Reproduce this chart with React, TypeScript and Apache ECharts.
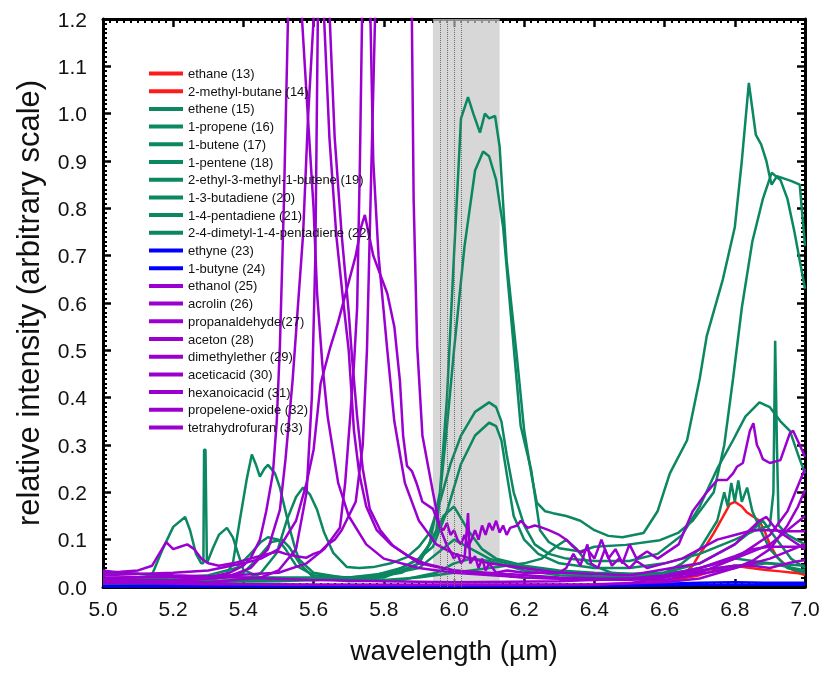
import React, { useEffect, useRef } from "react";
import * as echarts from "echarts";

type P = [number, number][];

const X_MIN = 5.0, X_MAX = 7.0, X_STEP = 0.2;
const Y_MIN = 0.0, Y_MAX = 1.2, Y_STEP = 0.1;
const BAND: [number, number] = [5.94, 6.13];
const BAND_LINES = [5.96, 5.983, 6.003, 6.023];

const ethane13: P = [[5.0,0.003],[5.5,0.003],[6.0,0.003],[6.4,0.004],[6.5,0.006],[6.55,0.009],[6.6,0.013],[6.65,0.025],[6.68,0.045],[6.70,0.07],[6.72,0.09],[6.74,0.114],[6.76,0.14],[6.786,0.175],[6.80,0.18],[6.82,0.17],[6.834,0.158],[6.85,0.15],[6.87,0.14],[6.886,0.116],[6.90,0.09],[6.92,0.063],[6.94,0.05],[6.966,0.036],[6.98,0.03],[7.0,0.025]];
const methylbutane14: P = [[5.0,0.002],[6.0,0.002],[6.5,0.005],[6.6,0.012],[6.65,0.018],[6.7,0.025],[6.73,0.032],[6.78,0.042],[6.80,0.045],[6.835,0.041],[6.89,0.036],[6.93,0.033],[6.966,0.03],[7.0,0.028]];
const ethene15: P = [[5.0,0.012],[5.2,0.012],[5.4,0.014],[5.6,0.015],[5.75,0.018],[5.85,0.03],[5.9,0.05],[5.93,0.09],[5.96,0.2],[5.98,0.4],[6.0,0.7],[6.02,0.99],[6.04,1.035],[6.055,1.0],[6.074,0.96],[6.088,1.0],[6.1,0.99],[6.117,0.995],[6.13,0.93],[6.15,0.69],[6.18,0.48],[6.20,0.33],[6.22,0.24],[6.236,0.178],[6.26,0.16],[6.282,0.156],[6.32,0.15],[6.36,0.14],[6.40,0.12],[6.44,0.108],[6.48,0.105],[6.54,0.114],[6.58,0.16],[6.615,0.24],[6.664,0.31],[6.70,0.44],[6.72,0.53],[6.766,0.65],[6.80,0.76],[6.82,0.9],[6.84,1.065],[6.86,0.955],[6.875,0.935],[6.89,0.9],[6.90,0.865],[6.905,0.85],[6.92,0.868],[6.96,0.858],[6.985,0.85],[7.0,0.72]];
const propene16: P = [[5.0,0.01],[5.5,0.012],[5.8,0.02],[5.9,0.05],[5.95,0.12],[5.98,0.34],[6.0,0.5],[6.03,0.72],[6.06,0.88],[6.083,0.92],[6.10,0.91],[6.12,0.86],[6.14,0.76],[6.165,0.55],[6.19,0.34],[6.22,0.247],[6.245,0.12],[6.27,0.095],[6.30,0.082],[6.36,0.075],[6.40,0.085],[6.49,0.089],[6.587,0.099],[6.64,0.115],[6.68,0.14],[6.74,0.20],[6.77,0.30],[6.795,0.44],[6.82,0.59],[6.85,0.73],[6.88,0.82],[6.905,0.875],[6.93,0.86],[6.95,0.82],[6.97,0.75],[7.0,0.63]];
const butene17: P = [[5.0,0.008],[5.3,0.01],[5.4,0.015],[5.45,0.03],[5.495,0.072],[5.524,0.142],[5.55,0.19],[5.57,0.21],[5.59,0.195],[5.61,0.163],[5.63,0.115],[5.656,0.072],[5.695,0.042],[5.73,0.04],[5.77,0.042],[5.82,0.05],[5.866,0.063],[5.90,0.085],[5.93,0.114],[5.96,0.18],[5.99,0.26],[6.02,0.32],[6.06,0.37],[6.10,0.39],[6.12,0.38],[6.135,0.35],[6.15,0.28],[6.17,0.2],[6.2,0.13],[6.23,0.09],[6.27,0.07],[6.32,0.06],[6.4,0.055],[6.5,0.055],[6.58,0.07],[6.65,0.11],[6.7,0.17],[6.75,0.25],[6.795,0.31],[6.83,0.36],[6.87,0.39],[6.90,0.38],[6.93,0.35],[6.957,0.33],[6.98,0.28],[7.0,0.24]];
const pentene18: P = [[5.0,0.01],[5.08,0.012],[5.12,0.02],[5.142,0.03],[5.17,0.08],[5.2,0.127],[5.234,0.148],[5.248,0.12],[5.265,0.07],[5.28,0.05],[5.286,0.05],[5.288,0.29],[5.292,0.29],[5.296,0.05],[5.313,0.082],[5.33,0.11],[5.353,0.125],[5.37,0.105],[5.385,0.07],[5.40,0.036],[5.45,0.02],[5.6,0.015],[5.7,0.02],[5.82,0.03],[5.895,0.057],[5.94,0.085],[5.98,0.16],[6.02,0.26],[6.06,0.32],[6.10,0.347],[6.12,0.34],[6.135,0.31],[6.15,0.24],[6.17,0.15],[6.2,0.1],[6.24,0.07],[6.3,0.05],[6.4,0.04],[6.5,0.04],[6.6,0.05],[6.7,0.07],[6.8,0.1],[6.86,0.12],[6.9,0.13],[6.91,0.2],[6.915,0.52],[6.92,0.3],[6.925,0.13],[6.95,0.11],[7.0,0.09]];
const ethylmethylbutene19: P = [[5.0,0.005],[5.2,0.008],[5.3,0.015],[5.35,0.025],[5.37,0.05],[5.39,0.142],[5.41,0.23],[5.424,0.28],[5.435,0.26],[5.447,0.233],[5.46,0.25],[5.47,0.258],[5.49,0.24],[5.504,0.21],[5.52,0.16],[5.533,0.12],[5.55,0.075],[5.56,0.057],[5.6,0.03],[5.7,0.018],[5.8,0.015],[5.9,0.02],[6.0,0.03],[6.1,0.04],[6.2,0.05],[6.25,0.06],[6.29,0.085],[6.32,0.1],[6.35,0.08],[6.38,0.05],[6.45,0.03],[6.55,0.025],[6.6,0.03],[6.65,0.05],[6.7,0.08],[6.75,0.14],[6.77,0.2],[6.78,0.17],[6.79,0.22],[6.80,0.18],[6.81,0.225],[6.82,0.18],[6.835,0.21],[6.85,0.16],[6.88,0.11],[6.9,0.08],[6.95,0.04],[7.0,0.03]];
const butadiene20: P = [[5.0,0.015],[5.2,0.02],[5.3,0.025],[5.38,0.04],[5.42,0.07],[5.45,0.095],[5.47,0.105],[5.5,0.1],[5.52,0.08],[5.55,0.045],[5.6,0.025],[5.7,0.02],[5.8,0.025],[5.9,0.04],[5.95,0.07],[6.0,0.1],[6.05,0.08],[6.1,0.06],[6.15,0.05],[6.2,0.04],[6.3,0.03],[6.5,0.025],[6.6,0.03],[6.7,0.05],[6.8,0.09],[6.85,0.12],[6.88,0.14],[6.92,0.1],[6.96,0.06],[7.0,0.04]];
const pentadiene21: P = [[5.0,0.012],[5.3,0.015],[5.4,0.03],[5.44,0.06],[5.48,0.095],[5.51,0.1],[5.53,0.085],[5.56,0.05],[5.6,0.02],[5.7,0.012],[5.85,0.015],[5.95,0.03],[6.0,0.05],[6.05,0.06],[6.1,0.055],[6.2,0.035],[6.3,0.025],[6.5,0.02],[6.6,0.025],[6.7,0.04],[6.8,0.06],[6.9,0.05],[7.0,0.035]];
const dimethylpentadiene22: P = [[5.0,0.03],[5.1,0.028],[5.2,0.02],[5.4,0.02],[5.6,0.02],[5.75,0.02],[5.85,0.04],[5.9,0.06],[5.94,0.1],[5.97,0.15],[6.0,0.17],[6.04,0.12],[6.08,0.08],[6.12,0.06],[6.2,0.045],[6.3,0.035],[6.4,0.03],[6.5,0.028],[6.6,0.03],[6.7,0.035],[6.8,0.045],[6.9,0.05],[7.0,0.045]];
const ethyne23: P = [[5.0,0.001],[5.5,0.001],[6.0,0.001],[6.5,0.002],[6.7,0.004],[7.0,0.005]];
const butyne24: P = [[5.0,0.002],[5.2,0.003],[5.4,0.002],[6.0,0.002],[6.5,0.004],[6.6,0.007],[6.7,0.009],[6.8,0.01],[6.9,0.009],[7.0,0.009]];
const ethanol25: P = [[5.0,0.012],[5.2,0.015],[5.3,0.02],[5.36,0.03],[5.40,0.045],[5.42,0.06],[5.447,0.10],[5.465,0.16],[5.484,0.24],[5.495,0.35],[5.504,0.51],[5.515,0.8],[5.527,1.2],[5.547,1.8],[5.567,1.2],[5.584,0.99],[5.60,0.8],[5.61,0.62],[5.625,0.47],[5.64,0.36],[5.67,0.22],[5.70,0.15],[5.75,0.09],[5.8,0.06],[5.9,0.04],[6.0,0.03],[6.2,0.02],[6.5,0.015],[6.7,0.03],[6.8,0.06],[6.9,0.11],[6.95,0.16],[7.0,0.25]];
const acrolin26: P = [[5.0,0.01],[5.2,0.012],[5.35,0.02],[5.42,0.04],[5.47,0.08],[5.504,0.163],[5.52,0.27],[5.54,0.435],[5.555,0.59],[5.57,0.744],[5.584,0.99],[5.6,1.2],[5.622,1.9],[5.646,1.2],[5.66,0.95],[5.68,0.744],[5.70,0.58],[5.71,0.48],[5.724,0.36],[5.74,0.25],[5.76,0.165],[5.79,0.12],[5.826,0.087],[5.87,0.065],[5.92,0.049],[6.0,0.035],[6.2,0.02],[6.4,0.015],[6.6,0.02],[6.8,0.06],[6.9,0.09],[7.0,0.15]];
const propanaldehyde27: P = [[5.0,0.008],[5.3,0.01],[5.45,0.02],[5.5,0.035],[5.55,0.08],[5.58,0.2],[5.595,0.4],[5.605,0.7],[5.612,1.2],[5.62,2.0],[5.63,1.2],[5.645,0.95],[5.665,0.74],[5.685,0.6],[5.70,0.5],[5.715,0.33],[5.73,0.24],[5.75,0.17],[5.78,0.12],[5.82,0.09],[5.9,0.05],[6.0,0.035],[6.3,0.02],[6.6,0.015],[6.8,0.04],[6.9,0.06],[7.0,0.09]];
const aceton28: P = [[5.0,0.02],[5.3,0.022],[5.5,0.03],[5.58,0.05],[5.63,0.08],[5.675,0.125],[5.69,0.22],[5.704,0.357],[5.715,0.47],[5.724,0.59],[5.732,0.9],[5.738,1.2],[5.75,1.9],[5.762,1.2],[5.77,0.9],[5.785,0.7],[5.81,0.5],[5.83,0.35],[5.86,0.22],[5.9,0.14],[5.95,0.09],[6.0,0.07],[6.1,0.05],[6.3,0.03],[6.5,0.025],[6.7,0.05],[6.8,0.09],[6.87,0.14],[6.89,0.148],[6.92,0.12],[6.96,0.1],[7.0,0.08]];
const dimethylether29: P = [[5.0,0.03],[5.05,0.032],[5.1,0.035],[5.14,0.045],[5.16,0.07],[5.18,0.095],[5.2,0.08],[5.22,0.085],[5.24,0.09],[5.26,0.08],[5.28,0.06],[5.3,0.05],[5.33,0.045],[5.37,0.05],[5.42,0.06],[5.47,0.07],[5.5,0.075],[5.52,0.07],[5.55,0.065],[5.58,0.062],[5.6,0.07],[5.62,0.075],[5.64,0.09],[5.66,0.1],[5.68,0.12],[5.70,0.15],[5.72,0.18],[5.74,0.3],[5.752,0.5],[5.765,0.9],[5.775,1.2],[5.83,1.8],[5.88,1.2],[5.885,0.82],[5.895,0.51],[5.91,0.32],[5.94,0.2],[5.96,0.125],[5.98,0.087],[5.99,0.075],[6.0,0.06],[6.01,0.07],[6.02,0.05],[6.03,0.06],[6.04,0.156],[6.046,0.05],[6.06,0.065],[6.07,0.04],[6.08,0.06],[6.09,0.035],[6.1,0.05],[6.12,0.03],[6.15,0.035],[6.2,0.03],[6.3,0.03],[6.32,0.04],[6.34,0.07],[6.36,0.045],[6.38,0.09],[6.39,0.05],[6.41,0.04],[6.43,0.08],[6.45,0.045],[6.47,0.06],[6.5,0.04],[6.52,0.055],[6.55,0.04],[6.6,0.05],[6.65,0.06],[6.7,0.08],[6.75,0.1],[6.8,0.11],[6.85,0.12],[6.9,0.12],[6.95,0.118],[7.0,0.118]];
const aceticacid30: P = [[5.0,0.025],[5.2,0.03],[5.3,0.035],[5.4,0.05],[5.45,0.06],[5.5,0.08],[5.55,0.14],[5.58,0.22],[5.6,0.29],[5.62,0.43],[5.647,0.505],[5.67,0.56],[5.695,0.63],[5.72,0.7],[5.735,0.76],[5.746,0.786],[5.77,0.70],[5.79,0.66],[5.81,0.62],[5.83,0.55],[5.846,0.435],[5.855,0.32],[5.866,0.256],[5.88,0.245],[5.894,0.218],[5.91,0.18],[5.94,0.165],[5.96,0.127],[5.97,0.12],[5.98,0.135],[5.99,0.11],[6.0,0.12],[6.01,0.1],[6.02,0.09],[6.03,0.11],[6.04,0.085],[6.05,0.1],[6.06,0.12],[6.07,0.1],[6.08,0.13],[6.09,0.11],[6.10,0.135],[6.11,0.12],[6.12,0.14],[6.13,0.115],[6.14,0.13],[6.15,0.11],[6.16,0.125],[6.18,0.13],[6.19,0.14],[6.21,0.125],[6.23,0.13],[6.245,0.127],[6.27,0.12],[6.30,0.11],[6.32,0.1],[6.34,0.085],[6.36,0.072],[6.38,0.08],[6.40,0.06],[6.42,0.1],[6.44,0.06],[6.46,0.08],[6.48,0.05],[6.50,0.09],[6.52,0.06],[6.55,0.075],[6.58,0.06],[6.6,0.07],[6.64,0.09],[6.68,0.16],[6.72,0.2],[6.75,0.226],[6.778,0.226],[6.795,0.24],[6.806,0.254],[6.823,0.262],[6.843,0.33],[6.853,0.346],[6.863,0.30],[6.87,0.29],[6.88,0.27],[6.90,0.262],[6.93,0.268],[6.957,0.325],[6.966,0.33],[6.985,0.3],[7.0,0.275]];
const hexanoicacid31: P = [[5.0,0.018],[5.2,0.012],[5.4,0.006],[5.6,0.005],[5.8,0.004],[6.0,0.004],[6.2,0.004],[6.4,0.005],[6.5,0.008],[6.6,0.02],[6.7,0.035],[6.8,0.045],[6.85,0.045],[6.9,0.04],[6.95,0.05],[7.0,0.057]];
const propeleneoxide32: P = [[5.0,0.01],[5.3,0.006],[5.6,0.005],[6.0,0.005],[6.4,0.006],[6.6,0.01],[6.7,0.018],[6.8,0.04],[6.85,0.055],[6.9,0.08],[6.95,0.13],[6.98,0.17],[7.0,0.205]];
const tetrahydrofuran33: P = [[5.0,0.035],[5.05,0.03],[5.1,0.028],[5.2,0.025],[5.4,0.02],[5.6,0.015],[5.8,0.012],[6.0,0.01],[6.3,0.012],[6.5,0.018],[6.6,0.025],[6.7,0.04],[6.8,0.065],[6.85,0.08],[6.9,0.085],[6.95,0.085],[7.0,0.085]];

const RED = "#ff1a1a", GREEN = "#0b8762", BLUE = "#0000ff", PURPLE = "#9a00d0";

const LOWER: { name: string; data: P; color: string }[] = [
  { name: "ethane (13)", data: ethane13, color: RED },
  { name: "2-methyl-butane (14)", data: methylbutane14, color: RED },
  { name: "ethene (15)", data: ethene15, color: GREEN },
  { name: "1-propene (16)", data: propene16, color: GREEN },
  { name: "1-butene (17)", data: butene17, color: GREEN },
  { name: "1-pentene (18)", data: pentene18, color: GREEN },
  { name: "2-ethyl-3-methyl-1-butene (19)", data: ethylmethylbutene19, color: GREEN },
  { name: "1-3-butadiene (20)", data: butadiene20, color: GREEN },
  { name: "1-4-pentadiene (21)", data: pentadiene21, color: GREEN },
  { name: "2-4-dimetyl-1-4-pentadiene (22)", data: dimethylpentadiene22, color: GREEN },
];
const UPPER: { name: string; data: P; color: string }[] = [
  { name: "ethyne (23)", data: ethyne23, color: BLUE },
  { name: "1-butyne (24)", data: butyne24, color: BLUE },
  { name: "ethanol (25)", data: ethanol25, color: PURPLE },
  { name: "acrolin (26)", data: acrolin26, color: PURPLE },
  { name: "propanaldehyde(27)", data: propanaldehyde27, color: PURPLE },
  { name: "aceton (28)", data: aceton28, color: PURPLE },
  { name: "dimethylether (29)", data: dimethylether29, color: PURPLE },
  { name: "aceticacid (30)", data: aceticacid30, color: PURPLE },
  { name: "hexanoicacid (31)", data: hexanoicacid31, color: PURPLE },
  { name: "propelene-oxide (32)", data: propeleneoxide32, color: PURPLE },
  { name: "tetrahydrofuran (33)", data: tetrahydrofuran33, color: PURPLE },
];

const FONT = "Liberation Sans, Arial, sans-serif";

const lineSeries = (s: { name: string; data: P; color: string }) => ({
  name: s.name,
  type: "line",
  data: s.data,
  symbol: "none",
  showSymbol: false,
  color: s.color,
  lineStyle: { color: s.color, width: 2.5 },
});

export default function App() {
  const ref = useRef<HTMLDivElement>(null);
  useEffect(() => {
    if (!ref.current) return;
    const chart = echarts.init(ref.current, undefined, { renderer: "svg" });
    chart.setOption({
      animation: false,
      grid: { left: 103, right: 25, top: 19, bottom: 86 },
      legend: {
        orient: "vertical",
        left: 149,
        top: 67,
        padding: 0,
        itemWidth: 34,
        itemHeight: 4,
        itemGap: 4.7,
        icon: "rect",
        selectedMode: false,
        textStyle: { fontSize: 13, color: "#111", fontFamily: FONT, lineHeight: 12 },
        data: [...LOWER, ...UPPER].map((s) => s.name),
      },
      xAxis: [
        {
          type: "value", min: X_MIN, max: X_MAX, interval: X_STEP, position: "bottom",
          axisLine: { show: true, onZero: false, lineStyle: { color: "#000", width: 3 } },
          axisTick: { show: true, inside: true, length: 8, lineStyle: { color: "#000", width: 2.5 } },
          minorTick: { show: true, splitNumber: 10, length: 4, lineStyle: { color: "#000", width: 2 } },
          splitLine: { show: false },
          axisLabel: { fontSize: 21, color: "#111", fontFamily: FONT, margin: 11, formatter: (v: number) => v.toFixed(1) },
          name: "wavelength (µm)", nameLocation: "middle", nameGap: 49,
          nameTextStyle: { fontSize: 28, color: "#111", fontFamily: FONT },
        },
        {
          type: "value", min: X_MIN, max: X_MAX, interval: X_STEP, position: "top",
          axisLine: { show: true, onZero: false, lineStyle: { color: "#000", width: 3 } },
          axisTick: { show: true, inside: true, length: 8, lineStyle: { color: "#000", width: 2.5 } },
          minorTick: { show: true, splitNumber: 10, length: 4, lineStyle: { color: "#000", width: 2 } },
          splitLine: { show: false },
          axisLabel: { show: false },
        },
      ],
      yAxis: [
        {
          type: "value", min: Y_MIN, max: Y_MAX, interval: Y_STEP, position: "left",
          axisLine: { show: true, onZero: false, lineStyle: { color: "#000", width: 3 } },
          axisTick: { show: true, inside: true, length: 8, lineStyle: { color: "#000", width: 2.5 } },
          minorTick: { show: true, splitNumber: 10, length: 4, lineStyle: { color: "#000", width: 2 } },
          splitLine: { show: false },
          axisLabel: { fontSize: 21, color: "#111", fontFamily: FONT, margin: 16, formatter: (v: number) => v.toFixed(1) },
          name: "relative intensity (arbitrary scale)", nameLocation: "middle", nameGap: 59,
          nameTextStyle: { fontSize: 31, color: "#111", fontFamily: FONT },
        },
        {
          type: "value", min: Y_MIN, max: Y_MAX, interval: Y_STEP, position: "right",
          axisLine: { show: true, onZero: false, lineStyle: { color: "#000", width: 3 } },
          axisTick: { show: true, inside: true, length: 8, lineStyle: { color: "#000", width: 2.5 } },
          minorTick: { show: true, splitNumber: 10, length: 4, lineStyle: { color: "#000", width: 2 } },
          splitLine: { show: false },
          axisLabel: { show: false },
        },
      ],
      series: [
        ...LOWER.map(lineSeries),
        {
          name: "band",
          type: "line",
          data: [[BAND[0], Y_MAX], [BAND[1], Y_MAX]],
          symbol: "none",
          showSymbol: false,
          lineStyle: { opacity: 0 },
          markArea: {
            silent: true,
            itemStyle: { color: "rgba(200,200,200,0.72)" },
            data: [[{ xAxis: BAND[0] }, { xAxis: BAND[1] }]],
          },
          markLine: {
            silent: true,
            symbol: "none",
            label: { show: false },
            lineStyle: { color: "#6e6e6e", width: 1, type: "dotted" },
            data: BAND_LINES.map((x) => ({ xAxis: x })),
          },
        },
        ...UPPER.map(lineSeries),
      ],
    });
    return () => chart.dispose();
  }, []);
  return <div ref={ref} style={{ position: "fixed", left: 0, top: 0, width: 830, height: 673 }} />;
}
